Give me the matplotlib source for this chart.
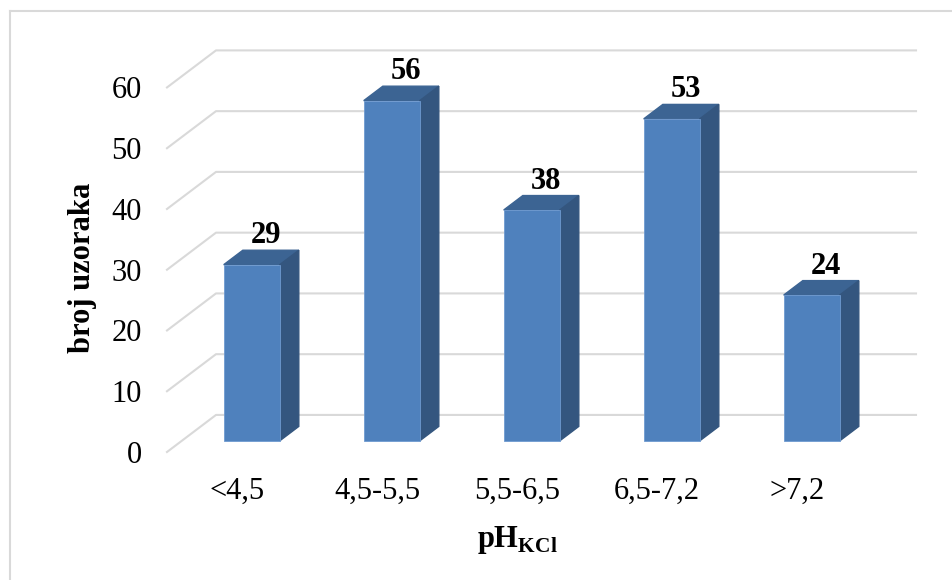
import matplotlib
matplotlib.use("Agg")
import matplotlib.pyplot as plt
from matplotlib.lines import Line2D

plt.rcParams['font.family'] = ['Liberation Serif', 'DejaVu Serif']
plt.rcParams['mathtext.fontset'] = 'custom'
plt.rcParams['mathtext.rm'] = 'Liberation Serif'
plt.rcParams['mathtext.bf'] = 'Liberation Serif:bold'

# data
categories = ['<4,5', '4,5-5,5', '5,5-6,5', '6,5-7,2', '>7,2']
counts = [29, 56, 38, 53, 24]
yticks = [0, 10, 20, 30, 40, 50, 60]

# pseudo 3d look (in data units)
DX, DY = 0.35, 6.1      # full depth of the floor
bar_off = 0.3           # bars sit at 30% of depth
bar_depth = 0.39        # bar depth as part of the floor depth
bar_w = 0.4

front_c = '#4F81BD'
side_c = '#34567F'
top_c = '#3C6493'
grid_c = '#D9D9D9'

W, H = 953, 580
fig = plt.figure(figsize=(W / 100, H / 100), dpi=100)
ax = fig.add_axes([167 / W, (H - 452) / H, 749 / W, 401 / H])
ax.set_xlim(-0.5, 4.5 + DX)
ax.set_ylim(0, 66)

# gridlines: diagonal on the left wall, then flat along the back wall
for v in yticks:
    ax.plot([-0.5, -0.5 + DX, 4.5 + DX], [v, v + DY, v + DY],
            color=grid_c, lw=1.5, clip_on=False, zorder=1)

ox, oy = bar_off * DX, bar_off * DY
bx, by = bar_depth * DX, bar_depth * DY
for i, v in enumerate(counts):
    x0 = i + ox - bar_w / 2
    x1 = i + ox + bar_w / 2
    y0 = oy
    y1 = oy + v
    # top face
    ax.fill([x0, x1, x1 + bx, x0 + bx], [y1, y1, y1 + by, y1 + by],
            color=top_c, clip_on=False, zorder=3)
    # side face
    ax.fill([x1, x1 + bx, x1 + bx, x1], [y0, y0 + by, y1 + by, y1],
            color=side_c, clip_on=False, zorder=3)
    # front face
    ax.fill([x0, x1, x1, x0], [y0, y0, y1, y1],
            color=front_c, ec='#6F9AD0', lw=0.6, clip_on=False, zorder=4)
    ax.text(i + ox + 0.1, y1 + by + 1.15, str(v), ha='center', va='baseline',
            fontsize=22, fontweight='bold', zorder=5)

ax.set_yticks(yticks)
ax.set_yticklabels([str(t) for t in yticks], fontsize=22)
ax.set_xticks(range(len(categories)))
ax.set_xticklabels(categories, fontsize=22)
ax.tick_params(axis='y', length=0, pad=18)
ax.tick_params(axis='x', length=0, pad=18)
for s in ax.spines.values():
    s.set_visible(False)
ax.patch.set_visible(False)

fig.text(83 / W, (H - 268) / H, 'broj uzoraka', rotation=90, ha='center',
         va='center', fontsize=22, fontweight='bold')
fig.text(517 / W, (H - 540) / H, r'$\mathbf{pH}_{\mathbf{KCl}}$', ha='center',
         va='center', fontsize=22)

# chart area border (only top and left visible)
fig.add_artist(Line2D([10 / W, 10 / W], [0, (H - 11) / H], color=grid_c, lw=1.5))
fig.add_artist(Line2D([10 / W, 1], [(H - 11) / H, (H - 11) / H], color=grid_c, lw=1.5))

fig.savefig('out.png', dpi=100)
